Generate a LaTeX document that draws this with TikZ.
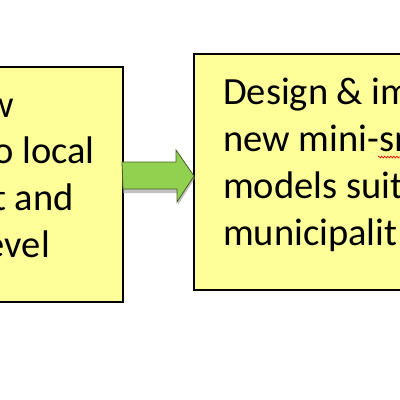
\documentclass[tikz,border=0pt]{standalone}
\usepackage{fontspec}
\setmainfont{Carlito}
\usetikzlibrary{decorations.pathmorphing,calc}
\definecolor{boxfill}{HTML}{FFFF99}
\definecolor{arrowfill}{HTML}{92D050}
\definecolor{arrowline}{HTML}{4A5F2A}
\tikzset{
  box/.style={draw=black, line width=1.6pt, fill=boxfill},
  txt/.style={font=\fontsize{38.5}{47}\selectfont, text=black, inner sep=0pt},
}
\begin{document}
\begin{tikzpicture}[x=1pt,y=-1pt]
\useasboundingbox (0,0) rectangle (400,400);
\clip (0,0) rectangle (400,400);
\fill[white] (0,0) rectangle (400,400);
% boxes
\draw[box] (-10,67) rectangle (123,302);
\draw[box] (194,54) rectangle (410,290);
\coordinate (L) at (123,175);
\coordinate (R) at (194,176);
% block arrow
\fill[black!40, opacity=0.6] ($(L)+(0,-11)$) -- ++(55,0) -- ++(0,-12) -- ($(R)+(1,2)$) -- ++(-17,27) -- ++(0,-12) -- ++(-55,0) -- cycle;
\draw[arrowline, line width=0.8pt, fill=arrowfill]
  ($(L)+(-1,-13)$) -- ++(54,0) -- ++(0,-12) -- (R) -- ++(-17,26) -- ++(0,-13) -- ++(-54,0) -- cycle;
% left text
\node[txt, anchor=base east] at (14,117) {w};
\node[txt, anchor=base east] at (95,163) {o local};
\node[txt, anchor=base east] at (74,210) {t and};
\node[txt, anchor=base east] at (50,257) {evel};
% right text
\node[txt, anchor=base west] at (223,104) {Design \& im};
\node[txt, anchor=base west] at (223,151) {new mini-sm};
\node[txt, anchor=base west] at (223,198) {models suit};
\node[txt, anchor=base west] at (223,245) {municipalit};
% spell-check squiggle
\draw[red, line width=0.6pt, decorate, decoration={zigzag, segment length=3pt, amplitude=1pt}] (378,157) -- (400,157);
\end{tikzpicture}
\end{document}
